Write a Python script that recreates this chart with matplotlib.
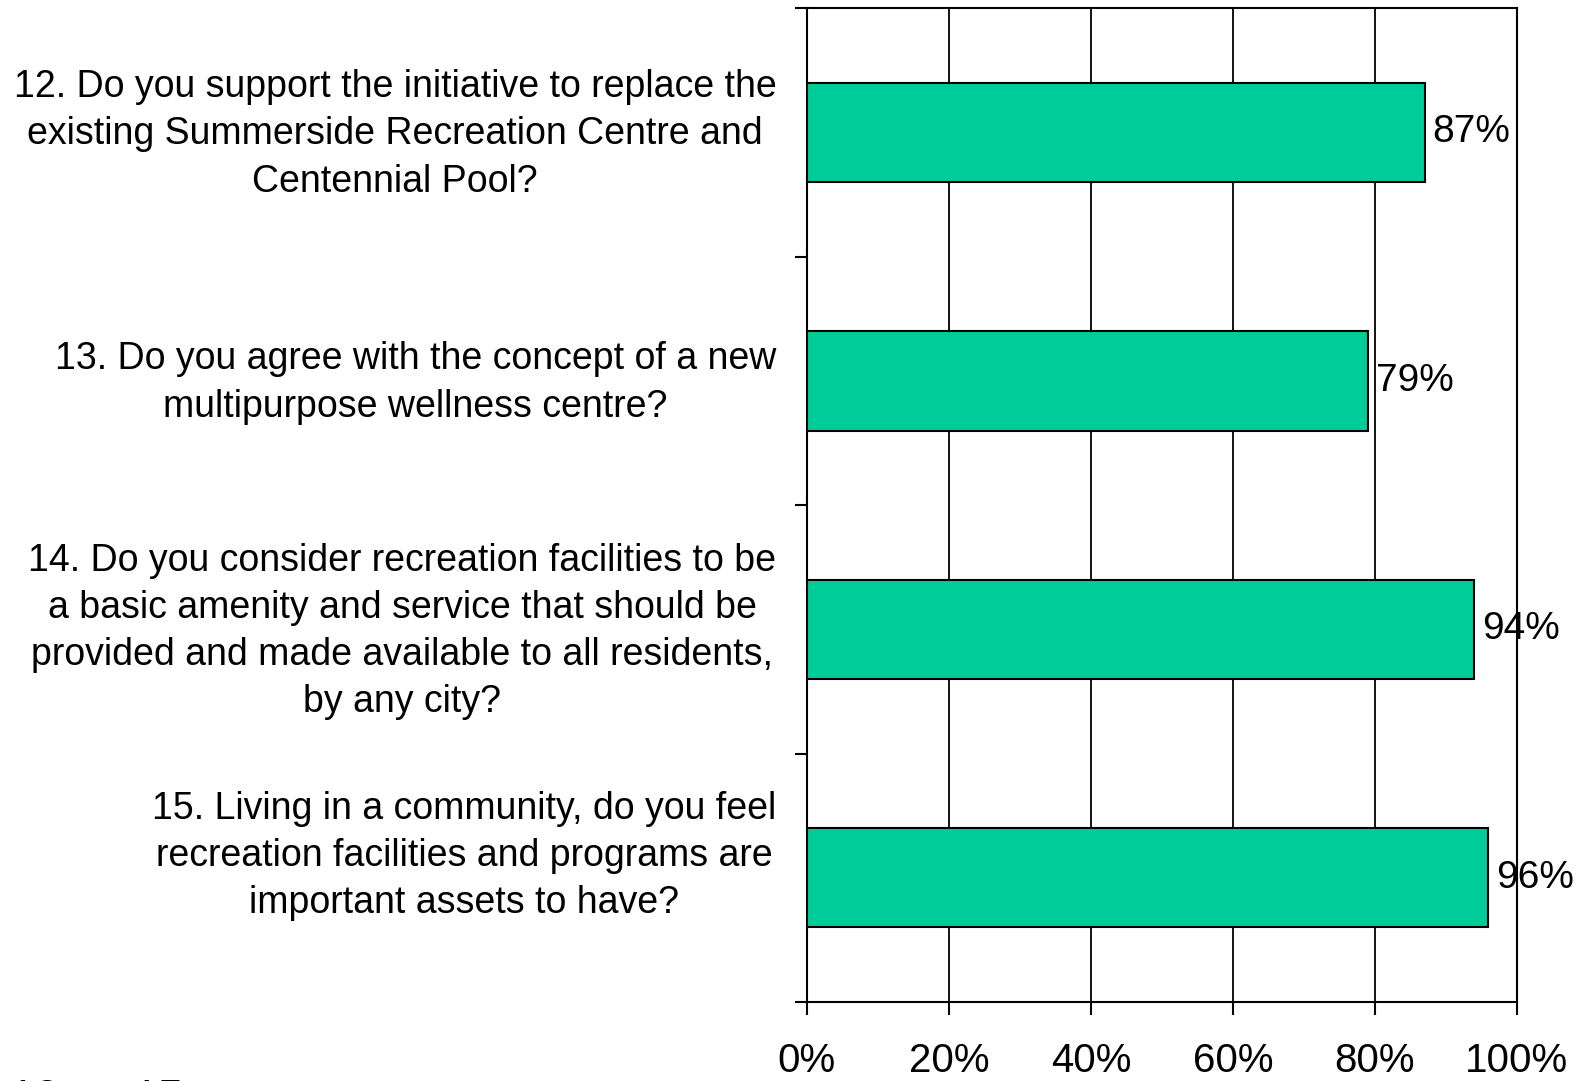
import matplotlib
matplotlib.use("Agg")
import matplotlib.pyplot as plt
import numpy as np

plt.rcParams['font.family'] = ['Liberation Sans', 'DejaVu Sans']

# survey questions (top to bottom) and share answering yes
questions = [
    "12. Do you support the initiative to replace the\nexisting Summerside Recreation Centre and\nCentennial Pool?",
    "13. Do you agree with the concept of a new\nmultipurpose wellness centre?",
    "14. Do you consider recreation facilities to be\na basic amenity and service that should be\nprovided and made available to all residents,\nby any city?",
    "15. Living in a community, do you feel\nrecreation facilities and programs are\nimportant assets to have?\n ",
]
values = [0.87, 0.79, 0.94, 0.96]
value_labels = ["87%", "79%", "94%", "96%"]
xticks = [0, 0.2, 0.4, 0.6, 0.8, 1.0]
xtick_labels = ["0%", "20%", "40%", "60%", "80%", "100%"]

fig = plt.figure(figsize=(15.9, 10.81), dpi=100)
ax = fig.add_axes([0.5075, 0.0731, 0.4465, 0.9194])

ypos = np.arange(len(values))
ax.barh(ypos, values, height=0.4, color='#00CC99', edgecolor='black', linewidth=1.5, zorder=3)

for y, v, lab in zip(ypos, values, value_labels):
    ax.text(v + 0.011, y, lab, va='center', ha='left', fontsize=28, zorder=5)

ax.set_xlim(0, 1)
ax.set_ylim(len(values) - 0.5, -0.5)
ax.set_xticks(xticks)
ax.set_xticklabels(xtick_labels, fontsize=29)
ax.xaxis.grid(True, color='black', linewidth=1.3, zorder=0)
ax.set_axisbelow(True)

# category boundaries carry the tick marks, labels sit at centres (nudged up a bit)
ax.set_yticks(np.arange(-0.5, len(values), 1.0))
ax.set_yticklabels([])
ax.set_yticks(ypos - 0.03, minor=True)
ax.set_yticklabels(questions, minor=True, fontsize=27)
for t in ax.get_yticklabels(minor=True):
    t.set_multialignment('center')
    t.set_linespacing(1.4)

ax.tick_params(axis='y', which='major', direction='out', length=9, width=1.5)
ax.tick_params(axis='y', which='minor', length=0, pad=22)
ax.tick_params(axis='x', direction='out', length=9, width=1.5, pad=20)
for s in ax.spines.values():
    s.set_linewidth(1.5)

fig.text(0.006, 1 - 1079 / 1081, "12  \u2013  15", fontsize=32, va='top', ha='left')

fig.savefig("out.png", dpi=100)
